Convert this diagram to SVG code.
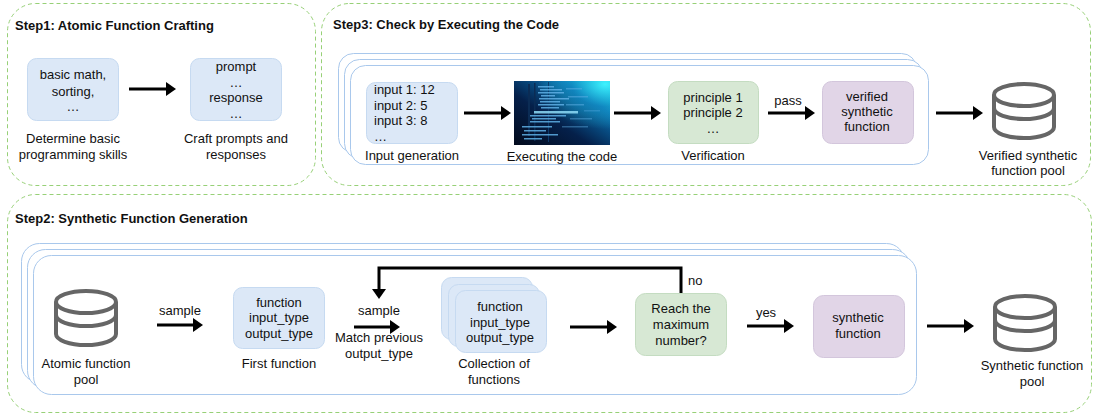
<svg xmlns="http://www.w3.org/2000/svg" xmlns:xlink="http://www.w3.org/1999/xlink" width="1093" height="417" viewBox="0 0 1093 417">
<style>
text{font-family:"Liberation Sans",Arial,sans-serif;font-size:13px;fill:#111;}
.title{font-weight:bold;}
.c{text-anchor:middle;}
.step{fill:none;stroke:#97d077;stroke-width:1;stroke-dasharray:4 3;}
.stack{fill:#fff;stroke:#a9c8ec;stroke-width:1;}
.blue{fill:#dce8f7;stroke:#c6daf1;stroke-width:1;}
.green{fill:#d7e8d4;stroke:#c4dcc1;stroke-width:1;}
.purple{fill:#e1d5e7;stroke:#d3c6dc;stroke-width:1;}
.arr{fill:none;stroke:#000;stroke-width:3;marker-end:url(#ah);}
.db{fill:none;stroke:#666;stroke-width:4;}
</style>
<defs>
<marker id="ah" markerUnits="userSpaceOnUse" markerWidth="10" markerHeight="14" viewBox="0 0 10 14" refX="0" refY="7" orient="auto">
<path d="M0,0 L10,7 L0,14 Z" fill="#000"/>
</marker>
<g id="dbicon">
<ellipse class="db" cx="32" cy="13" rx="30" ry="11"/>
<path class="db" d="M2,13 V45 A30,11 0 0 0 62,45 V13"/>
<path class="db" d="M2,26 A30,11 0 0 0 62,26"/>
</g>
<linearGradient id="codebg" x1="0" y1="1" x2="1" y2="0">
<stop offset="0" stop-color="#020a1c"/>
<stop offset="0.4" stop-color="#05204a"/>
<stop offset="0.75" stop-color="#0a6fae"/>
<stop offset="1" stop-color="#1de3f2"/>
</linearGradient>
<radialGradient id="glow" cx="0.95" cy="0.05" r="0.7">
<stop offset="0" stop-color="#40f4ff" stop-opacity="0.95"/>
<stop offset="0.5" stop-color="#1aa8d8" stop-opacity="0.4"/>
<stop offset="1" stop-color="#33f0ff" stop-opacity="0"/>
</radialGradient>
</defs>

<g id="step1">
<rect class="step" x="7.5" y="3.5" width="308" height="182" rx="28"/>
<text class="title" x="15" y="30">Step1: Atomic Function Crafting</text>
</g>
<g id="step3">
<rect class="step" x="321.5" y="3.5" width="769" height="182" rx="28"/>
<text class="title" x="333" y="29">Step3: Check by Executing the Code</text>
</g>
<g id="step2">
<rect class="step" x="7.5" y="194.5" width="1084" height="218" rx="28"/>
<text class="title" x="15" y="223">Step2: Synthetic Function Generation</text>
</g>

<g id="stack3">
<rect class="stack" x="338.5" y="53.5" width="578" height="99" rx="15"/>
<rect class="stack" x="344.5" y="59.5" width="578" height="99" rx="15"/>
<rect class="stack" x="350.5" y="65.5" width="578" height="99" rx="15"/>
</g>
<g id="stack2">
<rect class="stack" x="21.5" y="243.5" width="883" height="139" rx="18"/>
<rect class="stack" x="27.5" y="249.5" width="883" height="139" rx="18"/>
<rect class="stack" x="33.5" y="255.5" width="883" height="139" rx="18"/>
</g>

<g id="skills">
<rect class="blue" x="27.5" y="58.5" width="91" height="62" rx="9"/>
<text class="c" x="73" y="79">basic math,</text>
<text class="c" x="73" y="96">sorting,</text>
<text class="c" x="73" y="111">…</text>
<text class="c" x="73" y="143">Determine basic</text>
<text class="c" x="73" y="159">programming skills</text>
</g>
<g id="prompts">
<rect class="blue" x="190.5" y="58.5" width="91" height="62" rx="9"/>
<text class="c" x="236" y="71">prompt</text>
<text class="c" x="236" y="87">…</text>
<text class="c" x="236" y="102">response</text>
<text class="c" x="236" y="118">…</text>
<text class="c" x="236" y="143">Craft prompts and</text>
<text class="c" x="236" y="159">responses</text>
</g>

<g id="input-gen">
<rect class="blue" x="366.5" y="82.5" width="91" height="61" rx="9"/>
<text x="374" y="94">input 1: 12</text>
<text x="374" y="110">input 2: 5</text>
<text x="374" y="125">input 3: 8</text>
<text x="374" y="141">…</text>
<text class="c" x="412" y="160">Input generation</text>
</g>
<g id="exec">
<rect x="514" y="81" width="96" height="64" fill="url(#codebg)"/>
<rect x="514" y="81" width="96" height="64" fill="url(#glow)"/>
<rect x="528" y="84" width="2" height="52" fill="#0b2c55"/>
<rect x="534" y="83" width="1.5" height="58" fill="#0b2c55"/>
<rect x="548" y="82" width="1" height="60" fill="#0d3a6a"/>
<g fill="#5fb0e6" opacity="0.85">
<rect x="538" y="86" width="16" height="1.5"/>
<rect x="540" y="89" width="22" height="1.5"/>
<rect x="538" y="92" width="26" height="1.5"/>
<rect x="541" y="95" width="14" height="1.5"/>
<rect x="539" y="98" width="30" height="1.5"/>
<rect x="540" y="101" width="20" height="1.5"/>
<rect x="538" y="104" width="26" height="1.5"/>
<rect x="541" y="107" width="18" height="1.5"/>
<rect x="534" y="111" width="44" height="2.5" fill="#8fdcf8"/>
<rect x="530" y="115" width="36" height="1.5"/>
<rect x="532" y="118" width="24" height="1.5"/>
<rect x="530" y="121" width="30" height="1.5"/>
<rect x="522" y="126" width="30" height="1.5"/>
<rect x="524" y="130" width="22" height="1.5"/>
<rect x="522" y="134" width="36" height="1.5"/>
<rect x="524" y="138" width="18" height="1.5"/>
<rect x="566" y="88" width="16" height="1.5" opacity="0.6"/>
<rect x="568" y="96" width="20" height="1.5" opacity="0.6"/>
<rect x="566" y="104" width="18" height="1.5" opacity="0.6"/>
<rect x="570" y="118" width="22" height="1.5" opacity="0.5"/>
<rect x="562" y="126" width="26" height="1.5" opacity="0.5"/>
<rect x="584" y="110" width="16" height="1.5" opacity="0.4"/>
</g>
<text class="c" x="562" y="161">Executing the code</text>
</g>
<g id="verification">
<rect class="green" x="668.5" y="81.5" width="90" height="62" rx="9"/>
<text class="c" x="713" y="102">principle 1</text>
<text class="c" x="713" y="117">principle 2</text>
<text class="c" x="713" y="133">…</text>
<text class="c" x="713" y="160">Verification</text>
</g>
<g id="verified-fn">
<rect class="purple" x="822.5" y="81.5" width="91" height="62" rx="9"/>
<text class="c" x="867" y="101">verified</text>
<text class="c" x="867" y="116">synthetic</text>
<text class="c" x="867" y="131">function</text>
</g>
<g id="verified-pool">
<use xlink:href="#dbicon" href="#dbicon" transform="translate(992,82)"/>
<text class="c" x="1028" y="160">Verified synthetic</text>
<text class="c" x="1028" y="175">function pool</text>
</g>

<g id="atomic-pool">
<use xlink:href="#dbicon" href="#dbicon" transform="translate(54,289)"/>
<text class="c" x="86" y="368">Atomic function</text>
<text class="c" x="86" y="384">pool</text>
</g>
<g id="first-fn">
<rect class="blue" x="233.5" y="287.5" width="91" height="61" rx="9"/>
<text class="c" x="279" y="307">function</text>
<text class="c" x="279" y="322">input_type</text>
<text class="c" x="279" y="338">output_type</text>
<text class="c" x="279" y="368">First function</text>
</g>
<g id="collection">
<rect class="blue" x="441.5" y="277.5" width="91" height="62" rx="10"/>
<rect class="blue" x="448.5" y="284.5" width="91" height="62" rx="10"/>
<rect class="blue" x="455.5" y="290.5" width="91" height="62" rx="10"/>
<text class="c" x="500" y="311">function</text>
<text class="c" x="500" y="327">input_type</text>
<text class="c" x="500" y="342">output_type</text>
<text class="c" x="494" y="368">Collection of</text>
<text class="c" x="494" y="384">functions</text>
</g>
<g id="reach">
<rect class="green" x="635.5" y="293.5" width="91" height="62" rx="10"/>
<text class="c" x="681" y="313">Reach the</text>
<text class="c" x="681" y="329">maximum</text>
<text class="c" x="681" y="345">number?</text>
</g>
<g id="synthetic-fn">
<rect class="purple" x="813.5" y="295.5" width="91" height="62" rx="10"/>
<text class="c" x="858" y="322">synthetic</text>
<text class="c" x="858" y="338">function</text>
</g>
<g id="synthetic-pool">
<use xlink:href="#dbicon" href="#dbicon" transform="translate(993,294)"/>
<text class="c" x="1032" y="370">Synthetic function</text>
<text class="c" x="1032" y="386">pool</text>
</g>

<g id="connectors">
<path class="arr" d="M129,89 H166"/>
<path class="arr" d="M464,113 H501"/>
<path class="arr" d="M614,113 H651"/>
<path class="arr" d="M768,113 H805"/>
<text class="c" x="788" y="105">pass</text>
<path class="arr" d="M936,113 H973"/>
<path class="arr" d="M157,325 H193"/>
<text class="c" x="180" y="315">sample</text>
<path class="arr" d="M354,327 H390"/>
<text class="c" x="379" y="315">sample</text>
<text class="c" x="379" y="342">Match previous</text>
<text class="c" x="379" y="358">output_type</text>
<path class="arr" d="M570,327 H607"/>
<path class="arr" d="M681,293 V268 H379 V289"/>
<text x="688" y="285">no</text>
<path class="arr" d="M747,326 H784"/>
<text class="c" x="766" y="317">yes</text>
<path class="arr" d="M927,326 H964"/>
</g>
</svg>
